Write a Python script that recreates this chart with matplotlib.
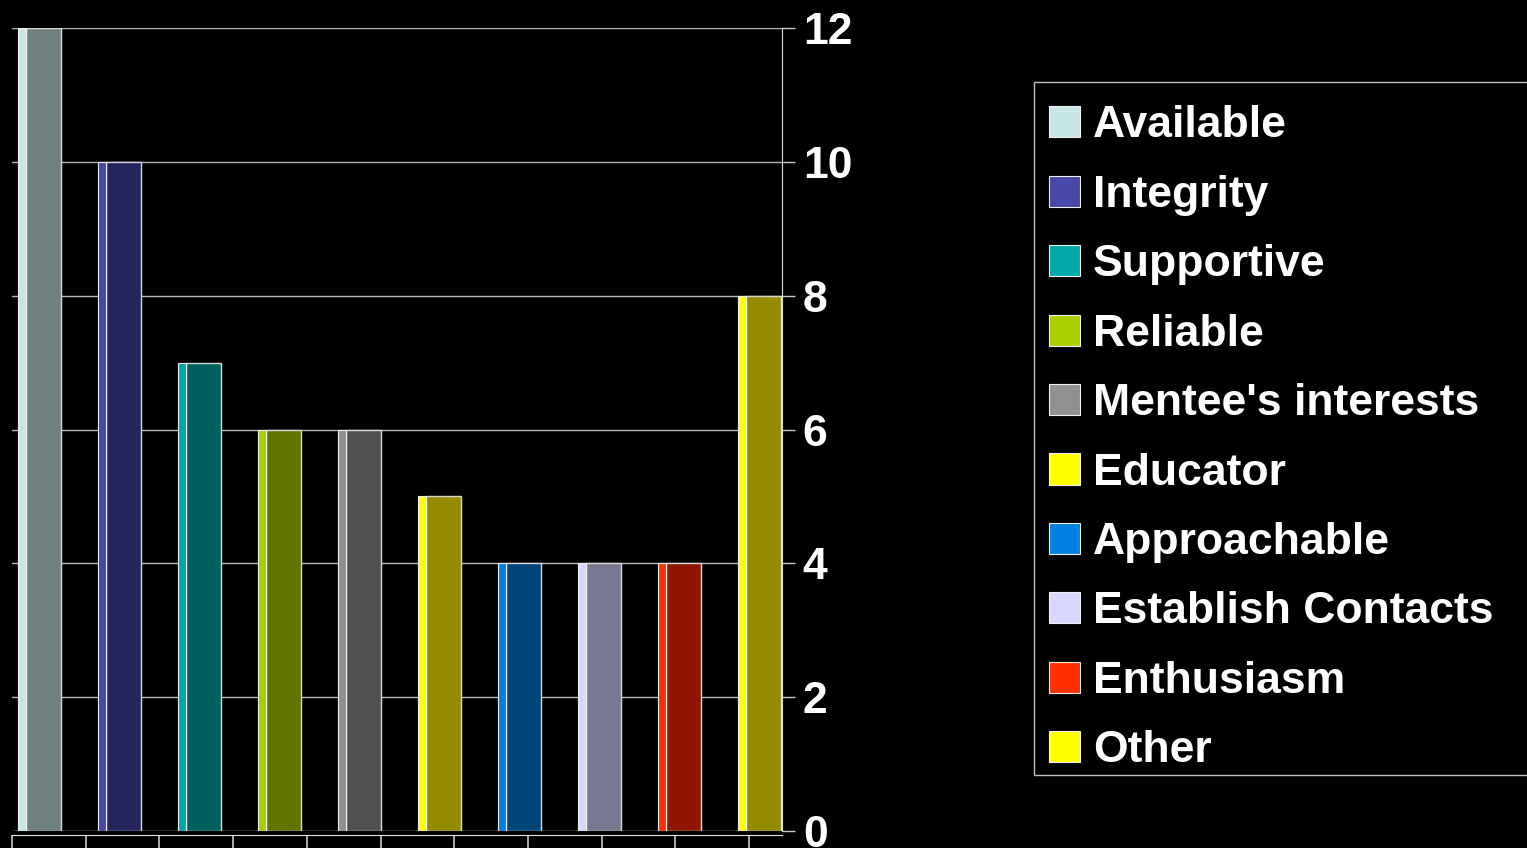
import numpy as np
import matplotlib
matplotlib.use("Agg")
import matplotlib.pyplot as plt
from matplotlib.patches import Patch, Rectangle

plt.rcParams["font.family"] = ["Liberation Sans", "DejaVu Sans"]
plt.rcParams["font.weight"] = "bold"

labels = ["Available", "Integrity", "Supportive", "Reliable", "Mentee's interests",
          "Educator", "Approachable", "Establish Contacts", "Enthusiasm", "Other"]
values = [12, 10, 7, 6, 6, 5, 4, 4, 4, 8]
front_colors = ["#c8e6e8", "#4848a8", "#00a8a8", "#a8d000", "#909090",
                "#ffff00", "#0080e0", "#d8d8ff", "#ff3000", "#ffff00"]
body_colors = ["#6e8080", "#24245e", "#006060", "#607400", "#505050",
               "#948c00", "#004578", "#787890", "#901500", "#948c00"]
yticks = [0, 2, 4, 6, 8, 10, 12]

W, H = 1527, 848
fig = plt.figure(figsize=(W / 100, H / 100), dpi=100, facecolor="black")
ax = fig.add_axes([12 / W, 1 - 831 / H, 770 / W, 803 / H], facecolor="black")

x = np.arange(len(values))
strip_w, body_w = 0.1, 0.44
ax.bar(x + body_w / 2 + strip_w, values, width=body_w, color=body_colors,
       edgecolor="#d8d8d8", linewidth=1, zorder=3)
ax.bar(x + strip_w / 2, values, width=strip_w, color=front_colors,
       edgecolor="#f0f0f0", linewidth=0.8, zorder=4)

ax.set_xlim(-0.075, 9.55)
ax.set_ylim(0, 12)
ax.set_yticks(yticks)
ax.yaxis.tick_right()
ax.tick_params(axis="y", colors="#c8c8c8", labelcolor="white", labelsize=32,
               length=9, width=1, pad=6)
for t in ax.get_yticklabels():
    t.set_fontweight("bold")
ax.grid(axis="y", color="#b8b8b8", linewidth=1, zorder=0)
ax.set_axisbelow(True)

ax.set_xticks(np.linspace(-0.075, 9.14, 11))
ax.set_xticklabels([])
ax.tick_params(axis="x", colors="#c8c8c8", length=10, width=1.2, direction="out")

for s in ["top", "left"]:
    ax.spines[s].set_visible(False)
ax.spines["right"].set_color("#e0e0e0")
ax.spines["bottom"].set_color("#e8e8e8")
ax.spines["bottom"].set_position(("outward", 3))

# legend frame drawn separately (runs off the right edge)
fig.patches.append(Rectangle((1034 / W, 1 - 775 / H), 520 / W, 693 / H,
                             transform=fig.transFigure, facecolor="black",
                             edgecolor="#c0c0c0", linewidth=1, zorder=0))

handles = [Patch(facecolor=c, edgecolor="#f0f0f0", linewidth=0.8) for c in front_colors]
leg = fig.legend(handles, labels, loc="upper left",
                 bbox_to_anchor=(1036 / W, 1 - 92 / H), frameon=False,
                 prop={"size": 32, "weight": "bold"}, labelcolor="white",
                 handlelength=0.7, handleheight=0.7, handletextpad=0.28,
                 labelspacing=0.64, borderpad=0.3, borderaxespad=0)

fig.savefig("out.png", dpi=100, facecolor="black")
